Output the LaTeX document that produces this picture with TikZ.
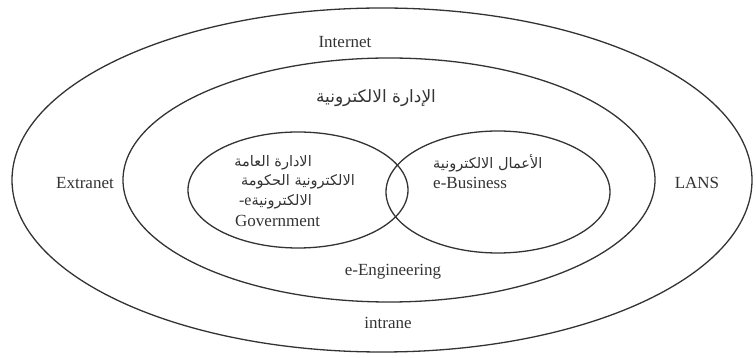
\documentclass[tikz,border=0pt]{standalone}
\usepackage{fontspec}
\setmainfont{Liberation Serif}
\newfontfamily\arabicfont[Script=Arabic]{DejaVu Sans}
\TeXXeTstate=1
\begin{document}
\begin{tikzpicture}[x=1pt,y=-1pt,
  ring/.style={draw=black!80,line width=1.3pt},
  lbl/.style={inner sep=0pt,font=\fontsize{17}{18}\selectfont,text=black!80},
  albl/.style={inner sep=0pt,font=\arabicfont\fontsize{14.5}{15}\selectfont,text=black!80}]
\useasboundingbox (0,0) rectangle (756,358);
\draw[ring] (382,180) ellipse [x radius=370, y radius=172];
\draw[ring] (389,180) ellipse [x radius=266, y radius=122];
\draw[ring] (298,190) ellipse [x radius=110, y radius=58];
\draw[ring] (498,192) ellipse [x radius=112, y radius=61];
\node[lbl] (internet) at (345,42) {Internet};
\node[albl,font=\arabicfont\fontsize{17}{18}\selectfont] (eadmin) at (376,98) {\beginR الإدارة الالكترونية\endR};
\node[lbl] (extranet) at (85,183) {Extranet};
\node[lbl] (lans) at (697,183) {LANS};
\node[lbl] (eeng) at (393,272) {e-Engineering};
\node[lbl] (intrane) at (388,323) {intrane};
\node[albl,anchor=east] (g1) at (312,163) {\beginR الادارة العامة\endR};
\node[albl,anchor=east] (g2) at (355,182) {\beginR الالكترونية الحكومة\endR};
\node[albl,anchor=east] (g3) at (312,202) {\mbox{\rmfamily\fontsize{16}{17}\selectfont -e}\mbox{\beginR الالكترونية\endR}};
\node[lbl,anchor=west] (g4) at (235,221) {Government};
\node[albl,anchor=west] (b1) at (433,163) {\beginR الأعمال الالكترونية\endR};
\node[lbl,anchor=west] (b2) at (433,183) {e-Business};
\end{tikzpicture}
\end{document}
